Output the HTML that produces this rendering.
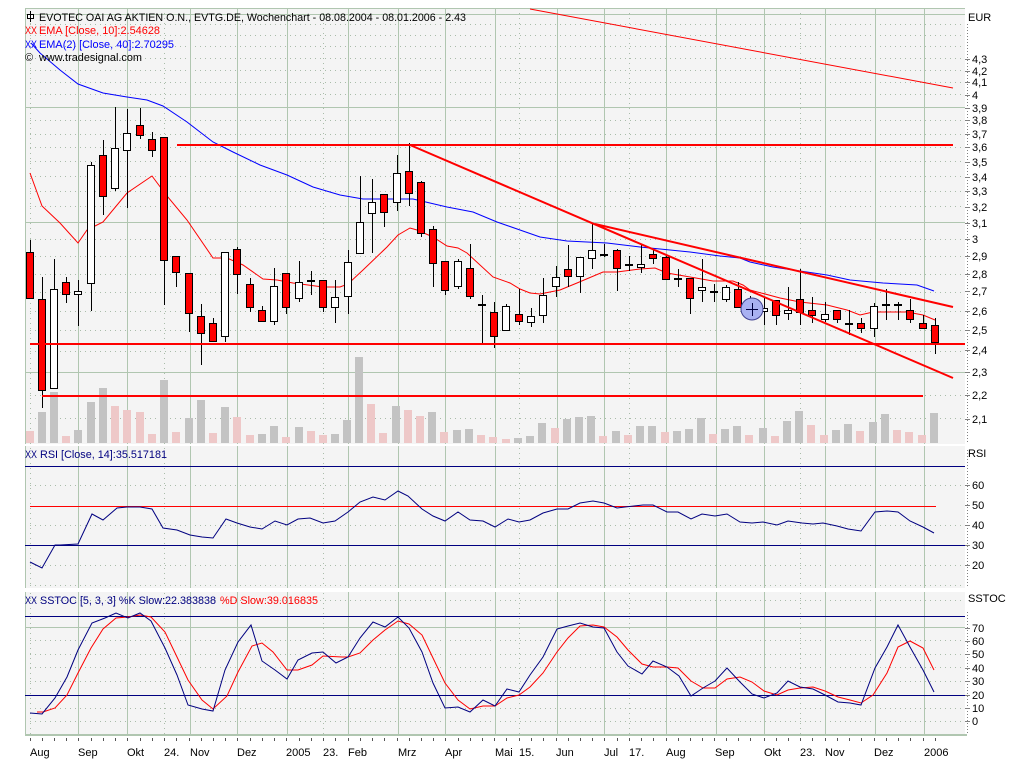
<!DOCTYPE html>
<html><head><meta charset="utf-8"><style>
html,body{margin:0;padding:0;background:#fff;}
svg{display:block;}
text{font-family:"Liberation Sans",Arial,sans-serif;font-size:11px;}
</style></head><body>
<svg width="1024" height="768" viewBox="0 0 1024 768" xmlns="http://www.w3.org/2000/svg">
<rect width="1024" height="768" fill="#fff"/>
<!-- panel backgrounds -->
<rect x="25" y="8" width="940" height="727" fill="#f4f4f4"/>
<!-- horizontal dotted grid -->
<g stroke="#a9bca9" stroke-width="1" stroke-dasharray="1 4" shape-rendering="crispEdges" fill="none">
<path d="M30 418.5H965M30 395.5H965M30 351.5H965M30 330.5H965M30 311.5H965M30 292.5H965M30 274.5H965M30 256.5H965M30 239.5H965M30 206.5H965M30 191.5H965M30 176.5H965M30 161.5H965M30 147.5H965M30 134.5H965M30 120.5H965M30 94.5H965M30 82.5H965M30 70.5H965M30 58.5H965M30 46.5H965M30 35.5H965M30 24.5H965"/>
<path d="M30 485.5H965M30 525.5H965M30 565.5H965M30 585.5H965"/>
<path d="M30 600.5H965M30 640.5H965M30 654.5H965M30 667.5H965M30 681.5H965M30 708.5H965M30 721.5H965"/>
<path d="M30.5 8V735M164.5 8V735M323.5 8V735M519.5 8V735M629.5 8V735M800.5 8V735"/>
</g>
<!-- solid grid -->
<g stroke="#b0c6b0" stroke-width="1" shape-rendering="crispEdges" fill="none">
<path d="M25 8.5H965M25 14.5H965M25 107.5H965M25 222.5H965M25 372.5H965M25 627.5H965"/>
<path d="M25.5 8V736M78.5 8V735M127.5 8V735M190.5 8V735M237.5 8V735M287.5 8V735M348.5 8V735M398.5 8V735M445.5 8V735M495.5 8V735M557.5 8V735M604.5 8V735M666.5 8V735M716.5 8V735M764.5 8V735M825.5 8V735M875.5 8V735M924.5 8V735"/>
</g>
<rect x="25" y="734" width="942" height="2" fill="#b0c6b0"/>
<!-- gaps -->
<rect x="24" y="444" width="943" height="2" fill="#fff"/>
<rect x="24" y="588" width="943" height="4" fill="#fff"/>

<!-- volume bars -->
<g shape-rendering="crispEdges">
<g fill="#c3c3c3">
<rect x="38" y="412" width="8" height="31"/><rect x="50" y="392" width="8" height="51"/><rect x="74" y="430" width="8" height="13"/><rect x="87" y="402" width="8" height="41"/><rect x="99" y="388" width="8" height="55"/><rect x="160" y="380" width="8" height="63"/><rect x="185" y="418" width="8" height="25"/><rect x="197" y="400" width="8" height="43"/><rect x="221" y="407" width="8" height="36"/><rect x="258" y="434" width="8" height="9"/><rect x="270" y="426" width="8" height="17"/><rect x="295" y="427" width="8" height="16"/><rect x="331" y="434" width="8" height="9"/><rect x="343" y="420" width="8" height="23"/><rect x="355" y="357" width="8" height="86"/><rect x="392" y="406" width="8" height="37"/><rect x="428" y="412" width="8" height="31"/><rect x="453" y="430" width="8" height="13"/><rect x="465" y="429" width="8" height="14"/><rect x="514" y="438" width="8" height="5"/><rect x="526" y="436" width="8" height="7"/><rect x="538" y="423" width="8" height="20"/><rect x="563" y="419" width="8" height="24"/><rect x="575" y="417" width="8" height="26"/><rect x="587" y="416" width="8" height="27"/><rect x="612" y="431" width="8" height="12"/><rect x="636" y="426" width="8" height="17"/><rect x="648" y="426" width="8" height="17"/><rect x="673" y="431" width="8" height="12"/><rect x="685" y="429" width="8" height="14"/><rect x="697" y="418" width="8" height="25"/><rect x="721" y="429" width="8" height="14"/><rect x="733" y="426" width="8" height="17"/><rect x="759" y="428" width="8" height="15"/><rect x="783" y="421" width="8" height="22"/><rect x="795" y="411" width="8" height="32"/><rect x="832" y="430" width="8" height="13"/><rect x="844" y="424" width="8" height="19"/><rect x="869" y="422" width="8" height="21"/><rect x="881" y="414" width="8" height="29"/><rect x="930" y="413" width="8" height="30"/>
</g>
<g fill="#eec8c8">
<rect x="26" y="431" width="8" height="12"/><rect x="62" y="436" width="8" height="7"/><rect x="111" y="406" width="8" height="37"/><rect x="123" y="410" width="8" height="33"/><rect x="136" y="412" width="8" height="31"/><rect x="148" y="434" width="8" height="9"/><rect x="172" y="432" width="8" height="11"/><rect x="209" y="433" width="8" height="10"/><rect x="233" y="417" width="8" height="26"/><rect x="246" y="435" width="8" height="8"/><rect x="282" y="437" width="8" height="6"/><rect x="307" y="431" width="8" height="12"/><rect x="319" y="435" width="8" height="8"/><rect x="367" y="404" width="8" height="39"/><rect x="379" y="433" width="8" height="10"/><rect x="404" y="410" width="8" height="33"/><rect x="416" y="416" width="8" height="27"/><rect x="440" y="432" width="8" height="11"/><rect x="477" y="435" width="8" height="8"/><rect x="489" y="437" width="8" height="6"/><rect x="502" y="439" width="8" height="4"/><rect x="551" y="428" width="8" height="15"/><rect x="599" y="436" width="8" height="7"/><rect x="624" y="435" width="8" height="8"/><rect x="661" y="432" width="8" height="11"/><rect x="709" y="434" width="8" height="9"/><rect x="745" y="435" width="8" height="8"/><rect x="771" y="436" width="8" height="7"/><rect x="807" y="425" width="8" height="18"/><rect x="820" y="435" width="8" height="8"/><rect x="856" y="431" width="8" height="12"/><rect x="893" y="430" width="8" height="13"/><rect x="905" y="432" width="8" height="11"/><rect x="918" y="435" width="8" height="8"/>
</g>
</g>

<!-- EMA lines -->
<polyline fill="none" stroke="#0000ff" stroke-width="1" points="31,43 40,53 60,70 78,84 103,93 127,97 147,100 163,106 187,122 213,142 233,152 260,165 287,175 313,187 340,195 363,199 413,199 447,207 473,212 497,222 540,237 567,241 607,243 640,247 690,252 720,256 740,258 750,262 773,267 800,271 827,275 850,280 883,283 917,285 934,291"/>
<polyline fill="none" stroke="#ff0000" stroke-width="1" points="30,173 42,206 60,223 78,243 87,230 103,222 127,193 152,176 167,196 187,220 213,258 227,258 243,265 263,279 277,280 293,283 323,287 340,287 348,284 363,270 387,247 398,235 410,228 417,230 433,237 447,246 458,248 467,253 493,277 510,283 520,289 530,293 540,294 560,290 577,283 603,272 617,272 640,269 655,268 667,273 690,277 713,281 733,281 743,285 750,290 780,298 800,302 827,305 847,310 860,315 873,312 893,312 907,312 923,315 935,320"/>

<!-- candles -->
<g shape-rendering="crispEdges">
<path stroke="#000" stroke-width="1" fill="none" d="M30.5 240V299M42.5 277V408M54.5 259V389M66.5 277V303M78.5 280V326M91.5 162V311M103.5 140V215M115.5 107V191M127.5 109V208M140.5 108V139M152.5 132V157M164.5 137V305M176.5 256V287M189.5 273V332M201.5 304V365M213.5 318V342M225.5 252V342M237.5 247V294M250.5 278V312M262.5 306V322M274.5 268V325M286.5 273V314M299.5 261V302M311.5 271V295M323.5 280V312M335.5 280V323M348.5 250V314M360.5 176V254M372.5 179V253M384.5 194V227M397.5 155V211M409.5 143V206M421.5 181V237M433.5 226V287M445.5 261V295M458.5 259V289M470.5 244V299M482.5 295V343M494.5 302V348M506.5 304V331M519.5 289V325M531.5 308V327M543.5 278V323M556.5 266V297M568.5 245V287M580.5 257V293M592.5 224V269M604.5 244V257M617.5 249V291M629.5 256V271M641.5 245V273M653.5 249V264M666.5 256V280M678.5 269V287M690.5 278V314M702.5 259V302M714.5 284V302M726.5 285V302M738.5 282V308M750.5 296V318M764.5 298V325M776.5 300V325M788.5 287V320M800.5 269V325M812.5 297V323M825.5 302V322M837.5 310V323M849.5 310V335M861.5 318V333M874.5 303V337M886.5 289V320M898.5 302V320M910.5 299V323M923.5 315V329M935.5 318V354"/>
<g fill="#ff0000" stroke="#000" stroke-width="1">
<rect x="26.5" y="252.5" width="7" height="46"/><rect x="38.5" y="299.5" width="7" height="91"/><rect x="62.5" y="282.5" width="7" height="12"/><rect x="99.5" y="155.5" width="7" height="41"/><rect x="136.5" y="125.5" width="7" height="10"/><rect x="148.5" y="139.5" width="7" height="11"/><rect x="160.5" y="137.5" width="7" height="123"/><rect x="172.5" y="256.5" width="7" height="16"/><rect x="185.5" y="273.5" width="7" height="40"/><rect x="197.5" y="316.5" width="7" height="17"/><rect x="209.5" y="323.5" width="7" height="18"/><rect x="233.5" y="249.5" width="7" height="25"/><rect x="246.5" y="284.5" width="7" height="23"/><rect x="258.5" y="310.5" width="7" height="11"/><rect x="282.5" y="273.5" width="7" height="34"/><rect x="319.5" y="280.5" width="7" height="27"/><rect x="380.5" y="194.5" width="7" height="18"/><rect x="405.5" y="171.5" width="7" height="22"/><rect x="417.5" y="182.5" width="7" height="51"/><rect x="429.5" y="229.5" width="7" height="34"/><rect x="441.5" y="261.5" width="7" height="29"/><rect x="466.5" y="268.5" width="7" height="28"/><rect x="490.5" y="312.5" width="7" height="24"/><rect x="515.5" y="314.5" width="7" height="7"/><rect x="564.5" y="269.5" width="7" height="7"/><rect x="613.5" y="250.5" width="7" height="18"/><rect x="625.5" y="264.5" width="7" height="1"/><rect x="649.5" y="254.5" width="7" height="4"/><rect x="662.5" y="257.5" width="7" height="22"/><rect x="686.5" y="278.5" width="7" height="20"/><rect x="734.5" y="289.5" width="7" height="18"/><rect x="772.5" y="300.5" width="7" height="15"/><rect x="796.5" y="299.5" width="7" height="13"/><rect x="808.5" y="310.5" width="7" height="5"/><rect x="833.5" y="310.5" width="7" height="9"/><rect x="845.5" y="323.5" width="7" height="1"/><rect x="857.5" y="323.5" width="7" height="5"/><rect x="894.5" y="304.5" width="7" height="1"/><rect x="906.5" y="310.5" width="7" height="9"/><rect x="919.5" y="323.5" width="7" height="5"/><rect x="931.5" y="325.5" width="7" height="17"/>
</g>
<g fill="#ffffff" stroke="#000" stroke-width="1">
<rect x="50.5" y="289.5" width="7" height="99"/><rect x="74.5" y="291.5" width="7" height="3"/><rect x="87.5" y="165.5" width="7" height="118"/><rect x="111.5" y="148.5" width="7" height="40"/><rect x="123.5" y="133.5" width="7" height="17"/><rect x="221.5" y="252.5" width="7" height="84"/><rect x="270.5" y="286.5" width="7" height="35"/><rect x="295.5" y="282.5" width="7" height="16"/><rect x="307.5" y="280.5" width="7" height="1"/><rect x="331.5" y="297.5" width="7" height="10"/><rect x="344.5" y="262.5" width="7" height="34"/><rect x="356.5" y="222.5" width="7" height="31"/><rect x="368.5" y="202.5" width="7" height="11"/><rect x="393.5" y="173.5" width="7" height="29"/><rect x="454.5" y="261.5" width="7" height="25"/><rect x="478.5" y="304.5" width="7" height="1"/><rect x="502.5" y="306.5" width="7" height="24"/><rect x="527.5" y="316.5" width="7" height="6"/><rect x="539.5" y="295.5" width="7" height="20"/><rect x="552.5" y="277.5" width="7" height="9"/><rect x="576.5" y="257.5" width="7" height="19"/><rect x="588.5" y="250.5" width="7" height="8"/><rect x="600.5" y="254.5" width="7" height="1"/><rect x="637.5" y="264.5" width="7" height="3"/><rect x="674.5" y="278.5" width="7" height="1"/><rect x="698.5" y="287.5" width="7" height="3"/><rect x="710.5" y="291.5" width="7" height="1"/><rect x="722.5" y="287.5" width="7" height="12"/><rect x="746.5" y="300.5" width="7" height="11"/><rect x="760.5" y="308.5" width="7" height="3"/><rect x="784.5" y="310.5" width="7" height="3"/><rect x="821.5" y="314.5" width="7" height="5"/><rect x="870.5" y="306.5" width="7" height="22"/><rect x="882.5" y="304.5" width="7" height="1"/>
</g>
</g>

<!-- red drawn lines -->
<g stroke="#ff0000" fill="none">
<path stroke-width="2" d="M177 145H953M30 344H965M42 396H923"/>
<path stroke-width="2" d="M410 145L953 378M595 224L953 307"/>
<path stroke-width="1" d="M530 9L953 88"/>
</g>
<!-- marker circle -->
<circle cx="752" cy="309" r="11" fill="#a9b1f2" stroke="#404090" stroke-width="1"/>
<path d="M746 309.5H758M752.5 303V316" stroke="#000040" stroke-width="1"/>

<!-- RSI panel -->
<g shape-rendering="crispEdges" fill="none" stroke-width="1">
<path stroke="#000080" d="M25 466.5H965M25 545.5H965"/>
<path stroke="#ff0000" d="M30 506.5H936"/>
<path stroke="#000080" d="M25 616.5H965M25 695.5H965"/>
</g>
<polyline fill="none" stroke="#000080" stroke-width="1" points="30,562 42,568 55,545 60,545 78,544 92,514 103,520 117,508 127,507 140,507 152,509 163,528 177,530 190,535 202,537 213,538 226,519 237,523 250,527 262,529 275,521 287,525 298,519 310,518 323,523 335,521 348,512 360,502 373,497 385,500 398,491 408,496 422,509 433,516 445,521 458,512 470,520 483,521 495,527 508,519 519,522 530,520 543,513 557,509 568,509 580,503 593,501 604,503 617,508 625,507 643,505 653,505 667,512 678,512 691,519 702,514 715,516 727,514 740,522 752,523 763,522 777,525 788,521 802,523 813,524 823,523 837,526 848,529 861,531 875,512 887,511 898,512 910,521 923,527 934,533"/>

<!-- Stoch -->
<polyline fill="none" stroke="#ff0000" stroke-width="1" points="37,712 43,712 55,708 67,695 78,673 91,648 103,629 116,618 128,617 140,615 151,617 165,632 177,657 188,680 202,700 213,709 227,696 238,672 252,646 262,643 273,652 287,670 298,670 312,665 323,656 342,657 348,657 360,653 373,640 385,630 398,621 409,624 422,635 433,658 445,683 458,700 470,709 483,706 495,706 507,698 519,695 530,687 543,673 557,652 568,638 580,626 593,625 604,627 617,637 628,650 642,664 653,667 667,667 678,668 691,681 703,688 715,688 727,679 740,677 752,682 764,691 777,695 788,690 800,688 813,687 825,691 838,697 850,700 861,703 873,695 887,673 898,647 910,641 923,648 934,670"/>
<polyline fill="none" stroke="#000080" stroke-width="1" points="30,713 42,714 55,698 67,677 78,650 92,623 105,618 116,613 128,618 140,613 151,621 165,648 177,675 188,705 202,709 213,711 225,670 238,642 251,625 262,661 275,670 287,679 298,660 312,653 323,652 336,663 348,657 360,638 373,622 385,627 398,617 409,628 422,652 433,683 445,708 458,707 470,712 483,700 495,706 507,689 519,692 530,675 543,657 557,629 568,626 580,623 593,627 604,628 617,652 628,666 642,674 653,661 667,667 679,676 691,696 703,688 715,681 727,668 740,682 752,694 764,698 777,693 788,681 800,687 813,689 825,695 838,702 850,703 861,705 875,668 887,647 898,625 910,647 923,670 934,692"/>

<!-- right axes -->
<g stroke="#808080" stroke-width="1" shape-rendering="crispEdges" fill="none">
<path stroke-dasharray="1 2" d="M967.5 24V444M967.5 450V588M967.5 612V734"/>
<path d="M965 59.5H970M965 71.5H970M965 82.5H970M965 95.5H970M965 108.5H970M965 120.5H970M965 134.5H970M965 147.5H970M965 162.5H970M965 177.5H970M965 191.5H970M965 207.5H970M965 223.5H970M965 239.5H970M965 256.5H970M965 274.5H970M965 291.5H970M965 311.5H970M965 330.5H970M965 350.5H970M965 372.5H970M965 395.5H970M965 419.5H970"/>
<path d="M965 485.5H970M965 505.5H970M965 525.5H970M965 545.5H970M965 565.5H970"/>
<path d="M965 628.5H970M965 641.5H970M965 654.5H970M965 668.5H970M965 681.5H970M965 695.5H970M965 708.5H970M965 721.5H970"/>
</g>
<g fill="#000">
<text x="968" y="21">EUR</text>
<text x="972" y="63">4,3</text><text x="972" y="75">4,2</text><text x="972" y="86">4,1</text><text x="972" y="99">4</text>
<text x="972" y="112">3,9</text><text x="972" y="124">3,8</text><text x="972" y="138">3,7</text><text x="972" y="151">3,6</text>
<text x="972" y="166">3,5</text><text x="972" y="181">3,4</text><text x="972" y="195">3,3</text><text x="972" y="211">3,2</text>
<text x="972" y="227">3,1</text><text x="972" y="243">3</text><text x="972" y="260">2,9</text><text x="972" y="278">2,8</text>
<text x="972" y="295">2,7</text><text x="972" y="315">2,6</text><text x="972" y="334">2,5</text><text x="972" y="354">2,4</text>
<text x="972" y="376">2,3</text><text x="972" y="399">2,2</text><text x="972" y="423">2,1</text>
<text x="968" y="457">RSI</text>
<text x="972" y="489">60</text><text x="972" y="509">50</text><text x="972" y="529">40</text><text x="972" y="549">30</text><text x="972" y="569">20</text>
<text x="968" y="602">SSTOC</text>
<text x="972" y="632">70</text><text x="972" y="645">60</text><text x="972" y="658">50</text><text x="972" y="672">40</text>
<text x="972" y="685">30</text><text x="972" y="699">20</text><text x="972" y="712">10</text><text x="972" y="725">0</text>
</g>

<!-- bottom x-axis ticks -->
<path stroke="#555" stroke-width="1" shape-rendering="crispEdges" fill="none" d="M30.5 738V741M42.5 738V741M54.5 738V741M66.5 738V741M78.5 738V741M91.5 738V741M103.5 738V741M115.5 738V741M127.5 738V741M140.5 738V741M152.5 738V741M164.5 738V741M176.5 738V741M189.5 738V741M201.5 738V741M213.5 738V741M225.5 738V741M237.5 738V741M250.5 738V741M262.5 738V741M274.5 738V741M286.5 738V741M299.5 738V741M311.5 738V741M323.5 738V741M335.5 738V741M348.5 738V741M360.5 738V741M372.5 738V741M384.5 738V741M397.5 738V741M409.5 738V741M421.5 738V741M433.5 738V741M445.5 738V741M458.5 738V741M470.5 738V741M482.5 738V741M494.5 738V741M506.5 738V741M519.5 738V741M531.5 738V741M543.5 738V741M556.5 738V741M568.5 738V741M580.5 738V741M592.5 738V741M604.5 738V741M617.5 738V741M629.5 738V741M641.5 738V741M653.5 738V741M666.5 738V741M678.5 738V741M690.5 738V741M702.5 738V741M714.5 738V741M726.5 738V741M738.5 738V741M750.5 738V741M764.5 738V741M776.5 738V741M788.5 738V741M800.5 738V741M812.5 738V741M825.5 738V741M837.5 738V741M849.5 738V741M861.5 738V741M874.5 738V741M886.5 738V741M898.5 738V741M910.5 738V741M923.5 738V741M935.5 738V741"/>
<g fill="#000">
<text x="30" y="756">Aug</text><text x="78" y="756">Sep</text><text x="127" y="756">Okt</text><text x="164" y="756">24.</text>
<text x="190" y="756">Nov</text><text x="237" y="756">Dez</text><text x="286" y="756">2005</text><text x="323" y="756">23.</text>
<text x="348" y="756">Feb</text><text x="398" y="756">Mrz</text><text x="445" y="756">Apr</text><text x="495" y="756">Mai</text>
<text x="519" y="756">15.</text><text x="556" y="756">Jun</text><text x="604" y="756">Jul</text><text x="629" y="756">17.</text>
<text x="666" y="756">Aug</text><text x="715" y="756">Sep</text><text x="764" y="756">Okt</text><text x="800" y="756">23.</text>
<text x="825" y="756">Nov</text><text x="874" y="756">Dez</text><text x="924" y="756">2006</text>
</g>

<!-- header texts -->
<path d="M30.5 11V22M27.5 14.5h6v4h-6z" stroke="#000" stroke-width="1" fill="#fff" shape-rendering="crispEdges"/>
<text x="39" y="21" fill="#000" textLength="427" lengthAdjust="spacingAndGlyphs">EVOTEC OAI AG AKTIEN O.N., EVTG.DE, Wochenchart - 08.08.2004 - 08.01.2006 - 2.43</text>
<text x="25" y="34" fill="#ff0000" textLength="12" lengthAdjust="spacingAndGlyphs">XX</text>
<text x="39" y="34" fill="#ff0000" textLength="121" lengthAdjust="spacingAndGlyphs">EMA [Close, 10]:2.54628</text>
<text x="25" y="48" fill="#0000ff" textLength="12" lengthAdjust="spacingAndGlyphs">XX</text>
<text x="39" y="48" fill="#0000ff" textLength="135" lengthAdjust="spacingAndGlyphs">EMA(2) [Close, 40]:2.70295</text>
<text x="25" y="61" fill="#000">©</text>
<text x="39" y="61" fill="#000" textLength="103" lengthAdjust="spacingAndGlyphs">www.tradesignal.com</text>
<text x="25" y="458" fill="#000080" textLength="12" lengthAdjust="spacingAndGlyphs">XX</text>
<text x="40" y="458" fill="#000080" textLength="127" lengthAdjust="spacingAndGlyphs">RSI [Close, 14]:35.517181</text>
<text x="25" y="604" fill="#000080" textLength="12" lengthAdjust="spacingAndGlyphs">XX</text>
<text x="40" y="604" fill="#000080" textLength="176" lengthAdjust="spacingAndGlyphs">SSTOC [5, 3, 3] %K Slow:22.383838</text>
<text x="220" y="604" fill="#ff0000" textLength="98" lengthAdjust="spacingAndGlyphs">%D Slow:39.016835</text>
</svg>
</body></html>
